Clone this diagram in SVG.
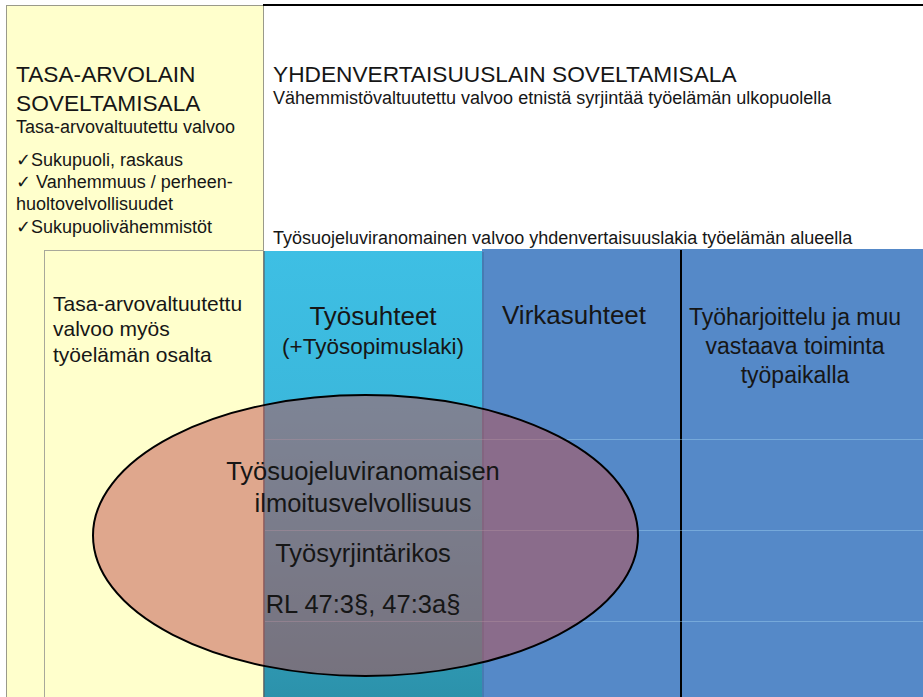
<svg xmlns="http://www.w3.org/2000/svg" width="923" height="697" viewBox="0 0 923 697">
  <style>
    text { font-family: "Liberation Sans", Arial, sans-serif; fill: #161616; }
    .h1 { font-size: 22.7px; }
    .sub { font-size: 18px; }
    .col { font-size: 26px; }
    .mid { font-size: 21px; }
    .wide { font-size: 23px; }
    .ell { font-size: 25.5px; }
    .c { text-anchor: middle; }
  </style>
  <defs>
    <linearGradient id="cyanGrad" x1="0" y1="0" x2="0" y2="1">
      <stop offset="0" stop-color="#3EBFE4"/>
      <stop offset="0.35" stop-color="#3BB8DC"/>
      <stop offset="1" stop-color="#2C92AB"/>
    </linearGradient>
  </defs>
  <rect x="0" y="0" width="923" height="697" fill="#FFFFFF"/>

  <g id="tasa-arvolaki">
    <rect x="6.5" y="5.5" width="257" height="700" fill="#FFFFCC" stroke="#9A9A8A" stroke-width="1"/>
    <text class="h1" x="16" y="82">TASA-ARVOLAIN</text>
    <text class="h1" x="16" y="111">SOVELTAMISALA</text>
    <text class="sub" x="16" y="133">Tasa-arvovaltuutettu valvoo</text>
    <text class="sub" x="16" y="166">✓Sukupuoli, raskaus</text>
    <text class="sub" x="16" y="188">✓ Vanhemmuus / perheen-</text>
    <text class="sub" x="16" y="210">huoltovelvollisuudet</text>
    <text class="sub" x="16" y="233">✓Sukupuolivähemmistöt</text>
  </g>

  <g id="yhdenvertaisuuslaki">
    <line x1="263" y1="5" x2="923" y2="5" stroke="#000" stroke-width="2"/>
    <text class="h1" x="273" y="82">YHDENVERTAISUUSLAIN SOVELTAMISALA</text>
    <text class="sub" x="273" y="104">Vähemmistövaltuutettu valvoo etnistä syrjintää työelämän ulkopuolella</text>
    <text class="sub" x="273" y="244">Työsuojeluviranomainen valvoo yhdenvertaisuuslakia työelämän alueella</text>
  </g>

  <g id="tasa-arvo-tyoelama">
    <rect x="44.5" y="250.5" width="219" height="460" fill="#FFFFCC" stroke="#A8A89A" stroke-width="1"/>
    <text class="mid" x="53" y="311">Tasa-arvovaltuutettu</text>
    <text class="mid" x="53" y="336">valvoo myös</text>
    <text class="mid" x="53" y="362">työelämän osalta</text>
  </g>

  <g id="virkasuhteet">
    <rect x="482" y="249" width="441" height="448" fill="#5589C8"/>
    <text class="col" x="502" y="324">Virkasuhteet</text>
  </g>

  <g id="tyoharjoittelu">
    <line x1="681" y1="250" x2="681" y2="697" stroke="#000" stroke-width="2"/>
    <text class="wide c" x="795" y="325">Työharjoittelu ja muu</text>
    <text class="wide c" x="795" y="354">vastaava toiminta</text>
    <text class="wide c" x="795" y="383">työpaikalla</text>
  </g>

  <g id="tyosuhteet">
    <rect x="264" y="251" width="218" height="446" fill="url(#cyanGrad)"/>
    <line x1="483" y1="252" x2="483" y2="697" stroke="#3A6E9E" stroke-width="2" opacity="0.5"/>
    <line x1="264" y1="251" x2="264" y2="697" stroke="#555" stroke-width="1"/>
    <text class="col c" x="373" y="325">Työsuhteet</text>
    <text x="373" y="354" class="c" style="font-size:22.5px">(+Työsopimuslaki)</text>
  </g>

  <g id="grid-lines" stroke="#9FD0F0" stroke-width="1" opacity="0.45">
    <line x1="265" y1="439.5" x2="923" y2="439.5"/>
    <line x1="265" y1="530.5" x2="923" y2="530.5"/>
    <line x1="265" y1="621.5" x2="923" y2="621.5"/>
  </g>

  <g id="tyosyrjintarikos">
    <ellipse cx="365.5" cy="535.5" rx="272.5" ry="140.5" fill="#C0504D" fill-opacity="0.5" stroke="#000" stroke-width="2"/>
    <text class="ell c" x="363" y="480">Työsuojeluviranomaisen</text>
    <text class="ell c" x="363" y="512">ilmoitusvelvollisuus</text>
    <text class="ell c" x="363" y="562">Työsyrjintärikos</text>
    <text class="ell c" x="363" y="613">RL 47:3§, 47:3a§</text>
  </g>
</svg>
